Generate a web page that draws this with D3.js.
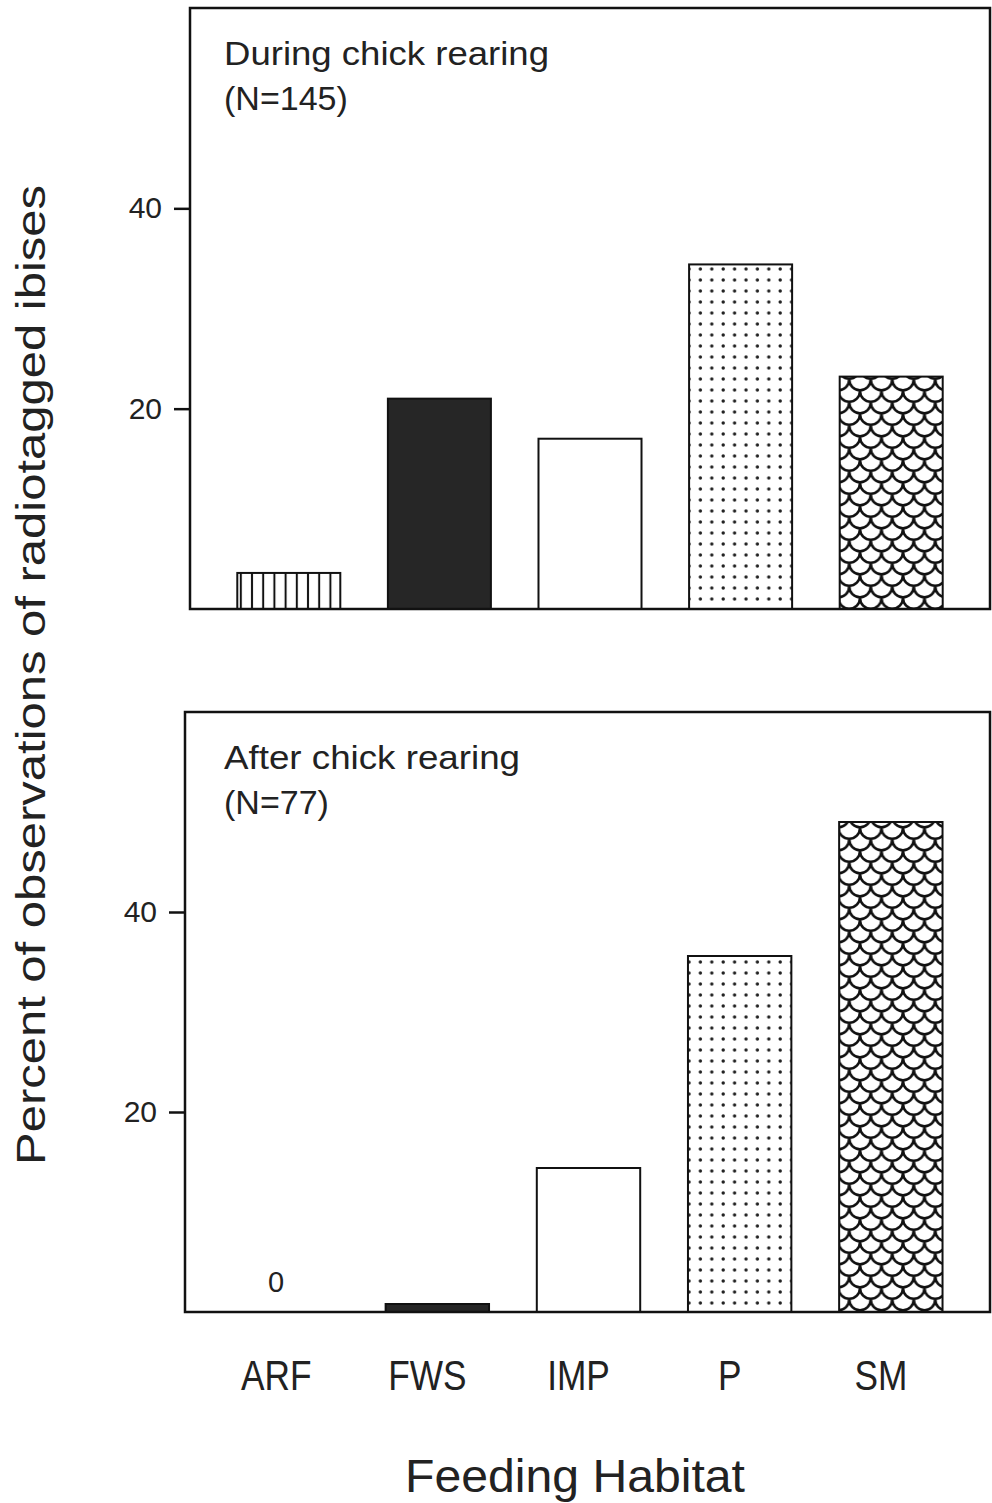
<!DOCTYPE html>
<html>
<head>
<meta charset="utf-8">
<script src="https://cdn.jsdelivr.net/npm/d3@7"></script>
<style>
  body { margin: 0; background: #fff; }
  text { font-family: "Liberation Sans", Arial, sans-serif; fill: #222; }
</style>
</head>
<body>
<script>
// data
var habitats = ["ARF", "FWS", "IMP", "P", "SM"];
var duringValues = [3.6, 21.0, 17.0, 34.4, 23.2];
var afterValues = [0, 0.8, 14.4, 35.6, 49.0];
var yTicks = [20, 40];
var panelTitles = ["During chick rearing", "After chick rearing"];
var panelNs = ["(N=145)", "(N=77)"];

var width = 992,
    height = 1503;

var fills = {
    ARF: "url(#pat-arf)",
    FWS: "#262626",
    IMP: "#fff",
    P: "url(#pat-p)",
    SM: "url(#pat-sm)"
};

var svg = d3.select("body")
    .append("svg")
    .attr("width", width)
    .attr("height", height);

makePatterns();

makePanel({ top: 8, bottom: 609, left: 190, right: 990, barLeft: 190, barRight: 990 },
          duringValues, panelTitles[0], panelNs[0]);
makePanel({ top: 712, bottom: 1312, left: 185, right: 990, barLeft: 187, barRight: 990 },
          afterValues, panelTitles[1], panelNs[1]);

makeLabels();

function makePatterns() {
    var defs = svg.append("defs");

    // vertical hatching (ARF)
    var vl = defs.append("pattern")
        .attr("id", "pat-arf")
        .attr("patternUnits", "userSpaceOnUse")
        .attr("width", 11.2).attr("height", 20);
    vl.append("rect").attr("width", 11.2).attr("height", 20).attr("fill", "#fff");
    vl.append("line")
        .attr("x1", 5.6).attr("x2", 5.6).attr("y1", 0).attr("y2", 20)
        .attr("stroke", "#111").attr("stroke-width", 2);

    // dots (P)
    var dp = defs.append("pattern")
        .attr("id", "pat-p")
        .attr("patternUnits", "userSpaceOnUse")
        .attr("width", 11.4).attr("height", 11);
    dp.append("rect").attr("width", 11.4).attr("height", 11).attr("fill", "#fff");
    dp.append("circle").attr("cx", 5).attr("cy", 5).attr("r", 1.7).attr("fill", "#222");

    // fish scales (SM)
    var w = 21.5, h = 23;
    var sc = defs.append("pattern")
        .attr("id", "pat-sm")
        .attr("patternUnits", "userSpaceOnUse")
        .attr("width", w).attr("height", h);
    sc.append("rect").attr("width", w).attr("height", h).attr("fill", "#fff");
    var r = w / 2;
    var arcs = [
        [0, 0], [-w / 2, h / 2], [w / 2, h / 2], [0, h], [-w / 2, -h / 2], [w / 2, -h / 2]
    ];
    arcs.forEach(function(a) {
        sc.append("path")
            .attr("d", "M" + a[0] + "," + a[1] + " A" + r + "," + r + " 0 0 0 " + (a[0] + w) + "," + a[1])
            .attr("fill", "none")
            .attr("stroke", "#111")
            .attr("stroke-width", 2.6);
    });
}

function makePanel(box, values, title, nText) {
    var g = svg.append("g");

    var y = d3.scaleLinear()
        .domain([0, 60])
        .range([box.bottom, box.top]);

    var x = d3.scaleBand()
        .domain(habitats)
        .range([box.barLeft, box.barRight])
        .paddingInner(0.316)
        .paddingOuter(0.314);

    g.selectAll("rect.bar")
        .data(values)
        .enter()
        .append("rect")
        .attr("class", "bar")
        .attr("x", function(d, i) { return x(habitats[i]); })
        .attr("width", x.bandwidth())
        .attr("y", function(d) { return y(d); })
        .attr("height", function(d) { return box.bottom - y(d); })
        .attr("fill", function(d, i) { return fills[habitats[i]]; })
        .attr("stroke", "#111")
        .attr("stroke-width", function(d) { return d > 0 ? 2 : 0; });

    // frame
    g.append("rect")
        .attr("x", box.left)
        .attr("y", box.top)
        .attr("width", box.right - box.left)
        .attr("height", box.bottom - box.top)
        .attr("fill", "none")
        .attr("stroke", "#111")
        .attr("stroke-width", 2.5);

    var axis = g.append("g")
        .attr("transform", "translate(" + box.left + ",0)")
        .call(d3.axisLeft(y).tickValues(yTicks).tickSize(16).tickPadding(12));
    axis.select(".domain").remove();
    axis.selectAll("line").attr("stroke", "#111").attr("stroke-width", 2.5);
    axis.selectAll("text")
        .attr("font-size", null)
        .style("font-family", "'Liberation Sans', Arial, sans-serif")
        .style("font-size", "30px")
        .attr("fill", "#333");

    // zero label for empty bar
    values.forEach(function(d, i) {
        if (d === 0) {
            g.append("text")
                .attr("x", x(habitats[i]) + x.bandwidth() / 2 - 10)
                .attr("y", box.bottom - 20)
                .attr("text-anchor", "middle")
                .style("font-size", "29px")
                .attr("fill", "#333")
                .text("0");
        }
    });

    g.append("text")
        .attr("x", 224)
        .attr("y", box.top + 57)
        .style("font-size", "34px")
        .attr("textLength", title.length > 19 ? 325 : 296)
        .attr("lengthAdjust", "spacingAndGlyphs")
        .text(title);
    g.append("text")
        .attr("x", 224)
        .attr("y", box.top + 102)
        .style("font-size", "34px")
        .text(nText);
}

function makeLabels() {
    var x = d3.scaleBand()
        .domain(habitats)
        .range([187, 990])
        .paddingInner(0.316)
        .paddingOuter(0.314);

    svg.append("g")
        .selectAll("text")
        .data(habitats)
        .enter()
        .append("text")
        .attr("transform", function(d) {
            return "translate(" + (x(d) + x.bandwidth() / 2 - 10) + ",1390) scale(0.82,1)";
        })
        .attr("text-anchor", "middle")
        .style("font-size", "43px")
        .text(function(d) { return d; });

    svg.append("text")
        .attr("x", 575)
        .attr("y", 1492)
        .attr("text-anchor", "middle")
        .attr("textLength", 340)
        .attr("lengthAdjust", "spacingAndGlyphs")
        .style("font-size", "47px")
        .text("Feeding Habitat");

    svg.append("text")
        .attr("transform", "translate(45,675) rotate(-90)")
        .attr("text-anchor", "middle")
        .attr("textLength", 980)
        .attr("lengthAdjust", "spacingAndGlyphs")
        .style("font-size", "40px")
        .text("Percent of observations of radiotagged ibises");
}
</script>
</body>
</html>
